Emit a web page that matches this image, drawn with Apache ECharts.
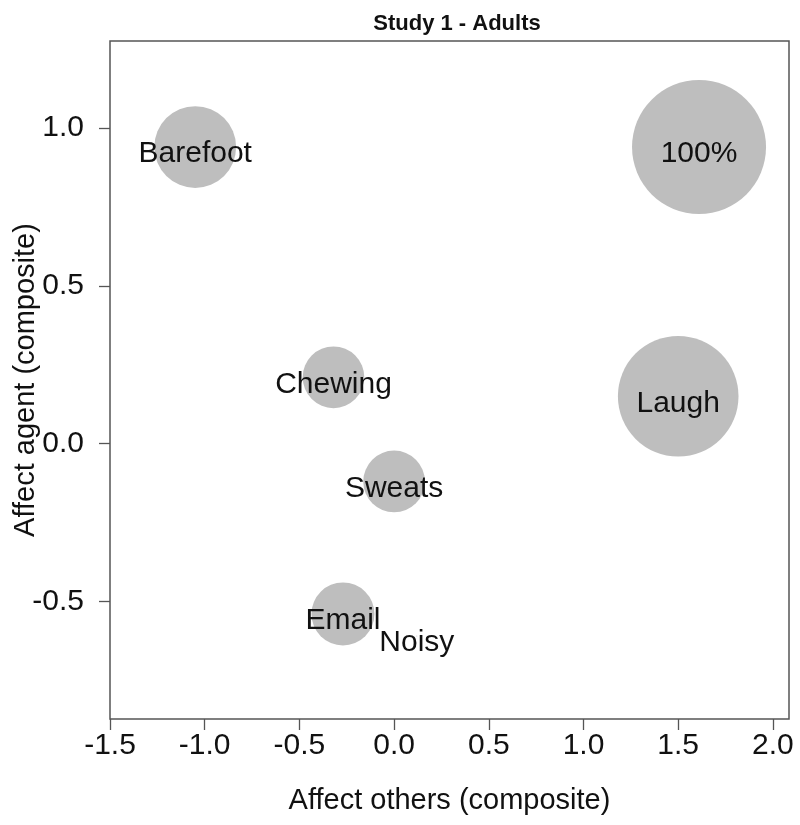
<!DOCTYPE html>
<html>
  <head>
    <meta charset="UTF-8">
    <title>Study 1 - Adults</title>
    <script src="https://cdn.jsdelivr.net/npm/echarts@6/dist/echarts.min.js"></script>
    <style>
      html, body { margin: 0; padding: 0; background: #fff; }
      #chart { width: 800px; height: 825px; }
    </style>
  </head>
  <body>
    <div id="chart"></div>
    <script type="text/javascript">
     // values
     var labels = ['100%', 'Barefoot', 'Chewing', 'Sweats', 'Laugh', 'Email', 'Noisy'];
     var affectOthers = [1.61, -1.05, -0.32, 0.00, 1.50, -0.27, 0.12];
     var affectAgent = [0.94, 0.94, 0.21, -0.12, 0.15, -0.54, -0.61];
     var pct = [100, 61, 46, 46, 90, 47, 0];
     var xTicks = [-1.5, -1.0, -0.5, 0.0, 0.5, 1.0, 1.5, 2.0];
     var yTicks = [-0.5, 0.0, 0.5, 1.0];

     var chart = echarts.init(document.getElementById('chart'));
     var font = 'Liberation Sans, Arial, sans-serif';

     var points = labels.map(function (name, i) {
       return { name: name, value: [affectOthers[i], affectAgent[i], pct[i]] };
     });

     var axisCommon = {
       type: 'value',
       axisLine: { show: false, onZero: false },
       splitLine: { show: false },
       axisTick: { show: true, inside: false, length: 11, lineStyle: { color: '#555', width: 1.3 } },
       nameLocation: 'middle',
       nameMoveOverlap: false,
       nameTextStyle: { fontFamily: font, fontSize: 29, color: '#111' }
     };

     chart.setOption({
       backgroundColor: '#fff',
       animation: false,
       title: {
         text: 'Study 1 - Adults',
         left: 452,
         top: 8,
         textAlign: 'center',
         textStyle: { fontFamily: font, fontSize: 22, fontWeight: 'bold', color: '#111' }
       },
       grid: {
         left: 110, right: 11, top: 41, bottom: 106,
         show: true, borderColor: '#555', borderWidth: 1.5,
         outerBoundsMode: 'none'
       },
       xAxis: Object.assign({}, axisCommon, {
         min: -1.5, max: 2.085,
         name: 'Affect others (composite)',
         nameGap: 67,
         axisTick: Object.assign({}, axisCommon.axisTick, { customValues: xTicks }),
         axisLabel: {
           customValues: xTicks, margin: 12,
           fontFamily: font, fontSize: 30, color: '#111',
           formatter: function (v) { return v.toFixed(1); }
         }
       }),
       yAxis: Object.assign({}, axisCommon, {
         min: -0.873, max: 1.276,
         name: 'Affect agent (composite)',
         nameGap: 70,
         axisTick: Object.assign({}, axisCommon.axisTick, { customValues: yTicks }),
         axisLabel: {
           customValues: yTicks, margin: 26,
           fontFamily: font, fontSize: 30, color: '#111',
           formatter: function (v) { return v.toFixed(1); }
         }
       }),
       series: [{
         type: 'scatter',
         data: points,
         symbol: 'circle',
         symbolSize: function (val) { return Math.max(val[2] * 1.34, 1); },
         itemStyle: { color: '#bebebe', opacity: 1 },
         label: {
           show: true,
           position: 'inside',
           offset: [0, 7],
           formatter: function (p) { return p.name; },
           fontFamily: font, fontSize: 30, color: '#111'
         },
         emphasis: { disabled: true }
       }]
     });
    </script>
  </body>
</html>
